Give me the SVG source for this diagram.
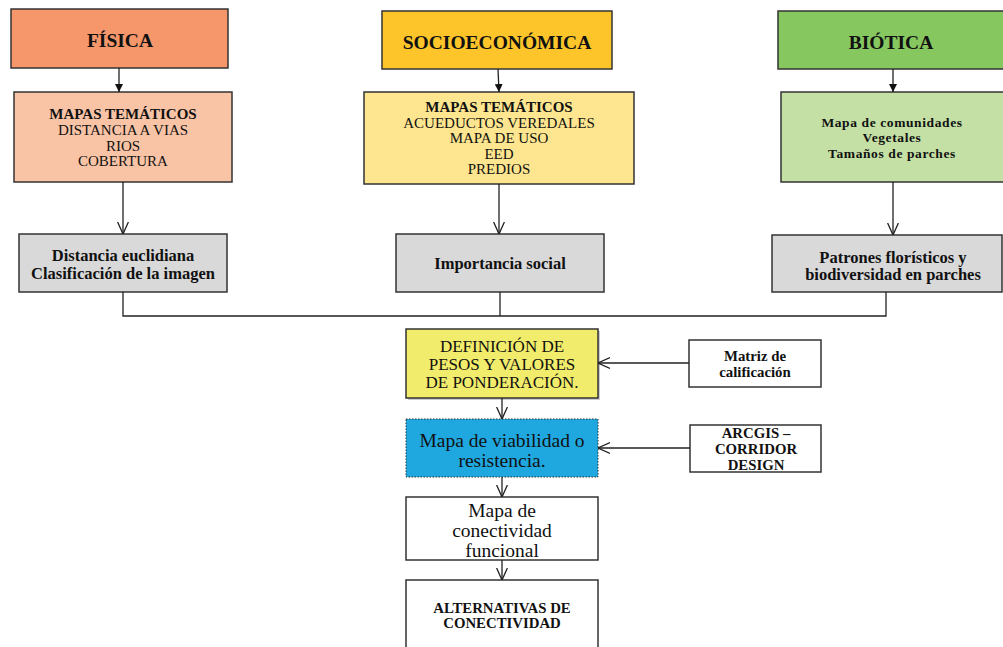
<svg xmlns="http://www.w3.org/2000/svg" width="1003" height="647" viewBox="0 0 1003 647">
<style>
text{font-family:"Liberation Serif","Times New Roman",serif;fill:#111;text-anchor:middle}
.b{font-weight:bold}
.h{font-size:19.5px;font-weight:bold}
.s{font-size:15px}
.g{font-size:16.5px;font-weight:bold}
.v{font-size:13.5px;font-weight:bold;letter-spacing:0.6px}
.m{font-size:14.8px;font-weight:bold}
.d{font-size:17px}
.r{font-size:19.5px}
.box{stroke:#333;stroke-width:1.5}
.ln{stroke:#222;stroke-width:1.3;fill:none}
</style>
<defs>
<marker id="fa" viewBox="0 0 10 10" refX="10" refY="5" markerWidth="8" markerHeight="8" markerUnits="userSpaceOnUse" orient="auto"><path d="M0,0 L10,5 L0,10 z" fill="#111"/></marker>
<marker id="oa" viewBox="0 0 10 10" refX="10" refY="5" markerWidth="12" markerHeight="12" markerUnits="userSpaceOnUse" orient="auto"><path d="M0,0.5 L10,5 L0,9.5" fill="none" stroke="#222" stroke-width="1.1"/></marker>
</defs>

<g id="fisica"><rect class="box" x="11" y="9" width="217" height="59" fill="#F5966B"/><text class="h" x="120" y="47">FÍSICA</text></g>
<g id="fisica-mapas"><rect class="box" x="14" y="92" width="218" height="90" fill="#F9C4A6"/>
<text class="s b" x="123" y="119">MAPAS TEMÁTICOS</text>
<text class="s" x="123" y="135">DISTANCIA A VIAS</text>
<text class="s" x="123" y="151">RIOS</text>
<text class="s" x="123" y="166">COBERTURA</text></g>
<g id="fisica-res"><rect class="box" x="19" y="234" width="208" height="58" fill="#D9D9D9"/>
<text class="g" x="123" y="261">Distancia euclidiana</text>
<text class="g" x="123" y="279">Clasificación de la imagen</text></g>

<g id="socio"><rect class="box" x="382" y="11" width="230" height="58" fill="#FDC52A"/><text class="h" x="497" y="49">SOCIOECONÓMICA</text></g>
<g id="socio-mapas"><rect class="box" x="364" y="92" width="270" height="92" fill="#FDE68F"/>
<text class="s b" x="499" y="112">MAPAS TEMÁTICOS</text>
<text class="s" x="499" y="128">ACUEDUCTOS VEREDALES</text>
<text class="s" x="499" y="143">MAPA DE USO</text>
<text class="s" x="499" y="159">EED</text>
<text class="s" x="499" y="174">PREDIOS</text></g>
<g id="socio-res"><rect class="box" x="396" y="234" width="208" height="58" fill="#D9D9D9"/>
<text class="g" x="500" y="269">Importancia social</text></g>

<g id="biotica"><rect class="box" x="778" y="11" width="230" height="58" fill="#86C760"/><text class="h" x="891" y="49">BIÓTICA</text></g>
<g id="biotica-mapas"><rect class="box" x="781" y="92" width="230" height="90" fill="#C4E0A5"/>
<text class="v" x="892" y="127">Mapa de comunidades</text>
<text class="v" x="892" y="142">Vegetales</text>
<text class="v" x="892" y="158">Tamaños de parches</text></g>
<g id="biotica-res"><rect class="box" x="772" y="235" width="230" height="57" fill="#D9D9D9"/>
<text class="g" x="893" y="263">Patrones florísticos y</text>
<text class="g" x="893" y="280">biodiversidad en parches</text></g>

<g id="definicion"><rect x="408" y="331" width="192" height="69" fill="#999" opacity="0.5"/><rect class="box" x="406" y="329" width="192" height="69" fill="#F1EC6B"/>
<text class="d" x="502" y="352">DEFINICIÓN DE</text>
<text class="d" x="502" y="370">PESOS Y VALORES</text>
<text class="d" x="502" y="388">DE PONDERACIÓN.</text></g>
<g id="matriz"><rect class="box" x="689" y="340" width="132" height="47" fill="#fff"/>
<text class="m" x="755" y="361">Matriz de</text>
<text class="m" x="755" y="377">calificación</text></g>
<g id="viabilidad"><rect x="406" y="419" width="192" height="58" fill="#1FA8E0" stroke="#333" stroke-width="1" stroke-dasharray="1.5,1.5"/>
<text class="r" x="502" y="447">Mapa de viabilidad o</text>
<text class="r" x="502" y="467">resistencia.</text></g>
<g id="arcgis"><rect class="box" x="690" y="425" width="131" height="47" fill="#fff"/>
<text class="m" x="756" y="438">ARCGIS –</text>
<text class="m" x="756" y="454">CORRIDOR</text>
<text class="m" x="756" y="470">DESIGN</text></g>
<g id="conectividad"><rect class="box" x="406" y="497" width="192" height="63" fill="#fff"/>
<text class="r" x="502" y="517">Mapa de</text>
<text class="r" x="502" y="537">conectividad</text>
<text class="r" x="502" y="557">funcional</text></g>
<g id="alternativas"><rect class="box" x="406" y="580" width="192" height="80" fill="#fff"/>
<text class="m" x="502" y="613">ALTERNATIVAS DE</text>
<text class="m" x="502" y="628">CONECTIVIDAD</text></g>

<g id="connectors">
<line class="ln" x1="119" y1="68" x2="119" y2="92" marker-end="url(#fa)"/>
<line class="ln" x1="498" y1="69" x2="499" y2="92" marker-end="url(#fa)"/>
<line class="ln" x1="893" y1="69" x2="893" y2="92" marker-end="url(#fa)"/>
<line class="ln" x1="123" y1="182" x2="123" y2="234" marker-end="url(#oa)"/>
<line class="ln" x1="499" y1="184" x2="499" y2="234" marker-end="url(#oa)"/>
<line class="ln" x1="893" y1="182" x2="893" y2="235" marker-end="url(#oa)"/>
<polyline class="ln" points="123,292 123,316 886,316 886,292"/>
<line class="ln" x1="500" y1="292" x2="500" y2="316"/>
<line class="ln" x1="689" y1="363" x2="598" y2="363" marker-end="url(#oa)"/>
<line class="ln" x1="690" y1="448" x2="598" y2="448" marker-end="url(#oa)"/>
<line class="ln" x1="502" y1="398" x2="502" y2="419" marker-end="url(#oa)"/>
<line class="ln" x1="502" y1="477" x2="502" y2="497" marker-end="url(#oa)"/>
<line class="ln" x1="502" y1="560" x2="502" y2="580" marker-end="url(#oa)"/>
</g>
</svg>
